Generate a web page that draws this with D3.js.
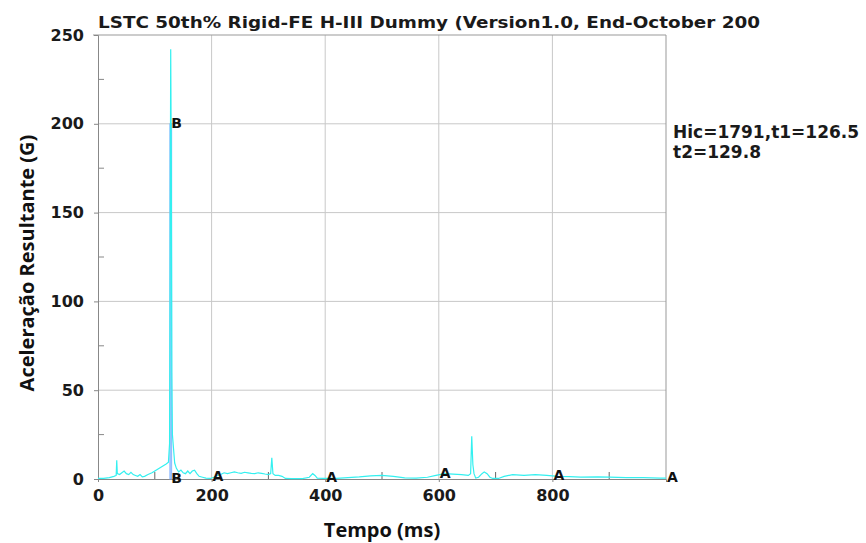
<!DOCTYPE html>
<html>
<head>
<meta charset="utf-8">
<script src="https://cdn.jsdelivr.net/npm/d3@7"></script>
<style>
body { margin: 0; background: #fff; }
</style>
</head>
<body>
<div id="chart"></div>
<script>
// curve A: resultant head acceleration (G) vs time (ms)
var timeA = [0,10,20,28,32,33,34,38,42,46,50,54,58,62,66,70,74,78,82,88,95,100,105,110,115,120,124,126,127,128,129,130,131,133,135,138,142,146,150,154,158,162,166,170,174,178,184,190,198,204,210,216,222,228,234,240,246,252,258,264,270,276,282,288,294,300,304,306,308,312,318,324,330,340,360,372,378,382,386,396,420,440,460,480,500,520,540,560,580,595,610,625,640,652,656,658,660,662,665,670,676,680,685,690,695,705,715,730,750,770,790,810,830,850,880,900,930,960,990,1000];
var accelA = [0.3,0.3,0.8,1.5,2,10.5,3,2.5,3.5,4.5,3,2.5,3.8,2.5,2,1.5,2.5,1.2,1.5,2.5,3.5,4.5,5.5,6.5,7.5,8.5,9.5,20,120,242,180,60,25,17,9,6,4,5,3.5,3,4.5,3,4.5,5,3,1.5,1,0.5,0.3,1,2,2.5,3.5,3,3.5,4,3.5,3.2,3.8,3.5,3.2,3,3.5,3.2,2.8,2.5,3,12,3,2,2,1.5,0.3,0.2,0.2,1,3,2,0.5,0.3,0.3,0.8,1.2,1.8,2,1.5,0.6,0.5,1,2,3,2.8,2.5,2,3,24,8,3,0.5,1,3,4,3,1,0.3,0.3,1.5,2.5,2,2.5,2,1.5,1.3,1,1.2,1,0.8,0.8,0.5,0.5];

// HIC window (curve B)
var hicT1 = 126.5, hicT2 = 129.8, hicTop = 200;
var hicText = ["Hic=1791,t1=126.5", "t2=129.8"];

// curve symbols
var markA = [200, 400, 600, 800, 1000];
var markB = [[129, 0], [129, 200]];

var xTicks = [0, 200, 400, 600, 800];
var yTicks = [0, 50, 100, 150, 200, 250];

var title = "LSTC 50th% Rigid-FE H-III Dummy (Version1.0, End-October 200";

var W = 866, H = 543;
var m = {left: 98, right: 200, top: 35, bottom: 64};

var svg = d3.select("#chart").append("svg")
	.attr("width", W)
	.attr("height", H);

var x = d3.scaleLinear().domain([0, 1000]).range([m.left, W - m.right]);
var y = d3.scaleLinear().domain([0, 250]).range([H - m.bottom, m.top]);

// grid
svg.append("g").selectAll("line")
	.data([200, 400, 600, 800])
	.enter().append("line")
	.attr("x1", function(d) { return x(d); })
	.attr("x2", function(d) { return x(d); })
	.attr("y1", y(0)).attr("y2", y(250))
	.attr("stroke", "#c8c8c8");
svg.append("g").selectAll("line")
	.data([50, 100, 150, 200])
	.enter().append("line")
	.attr("x1", x(0)).attr("x2", x(1000))
	.attr("y1", function(d) { return y(d); })
	.attr("y2", function(d) { return y(d); })
	.attr("stroke", "#c8c8c8");

// frame
svg.append("line").attr("x1", x(0) - 5).attr("x2", x(1000))
	.attr("y1", y(250)).attr("y2", y(250)).attr("stroke", "#999");
svg.append("line").attr("x1", x(1000)).attr("x2", x(1000))
	.attr("y1", y(250)).attr("y2", y(0)).attr("stroke", "#999");

// axes
var yAxis = d3.axisLeft(y).tickValues(yTicks).tickSize(4).tickPadding(10);
var gy = svg.append("g").attr("transform", "translate(" + m.left + ",0)").call(yAxis);
var xAxis = d3.axisBottom(x).tickValues(xTicks).tickSize(3).tickPadding(8);
var gx = svg.append("g").attr("transform", "translate(0," + (H - m.bottom) + ")").call(xAxis);
[gx, gy].forEach(function(g) {
	g.select(".domain").attr("stroke", "#888");
	g.selectAll(".tick line").attr("stroke", "#888");
	g.selectAll("text")
		.attr("fill", "#1a1a1a")
		.style("font-family", "DejaVu Sans")
		.style("font-weight", "bold")
		.style("font-size", "16px");
});

// minor ticks
svg.append("g").selectAll("line")
	.data(d3.range(25, 250, 50))
	.enter().append("line")
	.attr("x1", x(0)).attr("x2", x(0) + 6)
	.attr("y1", function(d) { return y(d); })
	.attr("y2", function(d) { return y(d); })
	.attr("stroke", "#888");
svg.append("g").selectAll("line")
	.data(d3.range(100, 1000, 200))
	.enter().append("line")
	.attr("x1", function(d) { return x(d); })
	.attr("x2", function(d) { return x(d); })
	.attr("y1", y(0)).attr("y2", y(0) - 7)
	.attr("stroke", "#666");

// HIC window
svg.append("rect")
	.attr("x", x(hicT1)).attr("y", y(hicTop))
	.attr("width", x(hicT2) - x(hicT1))
	.attr("height", y(0) - y(hicTop))
	.attr("fill", "#a8ccff")
	.attr("stroke", "#80b0ff")
	.attr("stroke-width", 0.8);

// curve A
var line = d3.line()
	.x(function(d) { return x(d[0]); })
	.y(function(d) { return y(d[1]); });
svg.append("path")
	.datum(d3.zip(timeA, accelA))
	.attr("d", line)
	.attr("fill", "none")
	.attr("stroke", "#33f0f0")
	.attr("stroke-width", 1.2);

// symbols
function accelAt(t) {
	var i = d3.bisectLeft(timeA, t);
	if (i >= timeA.length) i = timeA.length - 1;
	return accelA[i];
}
svg.append("g").selectAll("text")
	.data(markA)
	.enter().append("text")
	.attr("x", function(d) { return x(d) + 1; })
	.attr("y", function(d) { return y(accelAt(d)) - 1; })
	.attr("dominant-baseline", "central")
	.style("font-family", "DejaVu Sans")
	.style("font-weight", "bold")
	.style("font-size", "14px")
	.attr("fill", "#111")
	.text("A");
svg.append("g").selectAll("text")
	.data(markB)
	.enter().append("text")
	.attr("x", function(d) { return x(d[0]); })
	.attr("y", function(d) { return y(d[1]) - 1; })
	.attr("dominant-baseline", "central")
	.style("font-family", "DejaVu Sans")
	.style("font-weight", "bold")
	.style("font-size", "14px")
	.attr("fill", "#111")
	.text("B");

// title
svg.append("text")
	.attr("x", m.left).attr("y", 28)
	.attr("textLength", 662)
	.attr("lengthAdjust", "spacingAndGlyphs")
	.style("font-family", "DejaVu Sans")
	.style("font-weight", "bold")
	.style("font-size", "16px")
	.attr("fill", "#1a1a1a")
	.text(title);

// HIC result
svg.append("g").selectAll("text")
	.data(hicText)
	.enter().append("text")
	.attr("x", 673)
	.attr("y", function(d, i) { return 138 + i * 20; })
	.style("font-family", "DejaVu Sans")
	.style("font-weight", "bold")
	.style("font-size", "17px")
	.attr("fill", "#1a1a1a")
	.text(function(d) { return d; });

// axis titles
svg.append("text")
	.attr("x", (x(0) + x(1000)) / 2).attr("y", 537)
	.attr("text-anchor", "middle")
	.style("font-family", "Open Sans")
	.style("font-weight", "bold")
	.style("font-size", "20px")
	.attr("fill", "#111")
	.text("Tempo (ms)");
svg.append("text")
	.attr("transform", "translate(34," + 263 + ") rotate(-90)")
	.attr("text-anchor", "middle")
	.style("font-family", "Open Sans")
	.style("font-weight", "bold")
	.style("font-size", "20px")
	.attr("fill", "#111")
	.text("Aceleração Resultante (G)");
</script>
</body>
</html>
